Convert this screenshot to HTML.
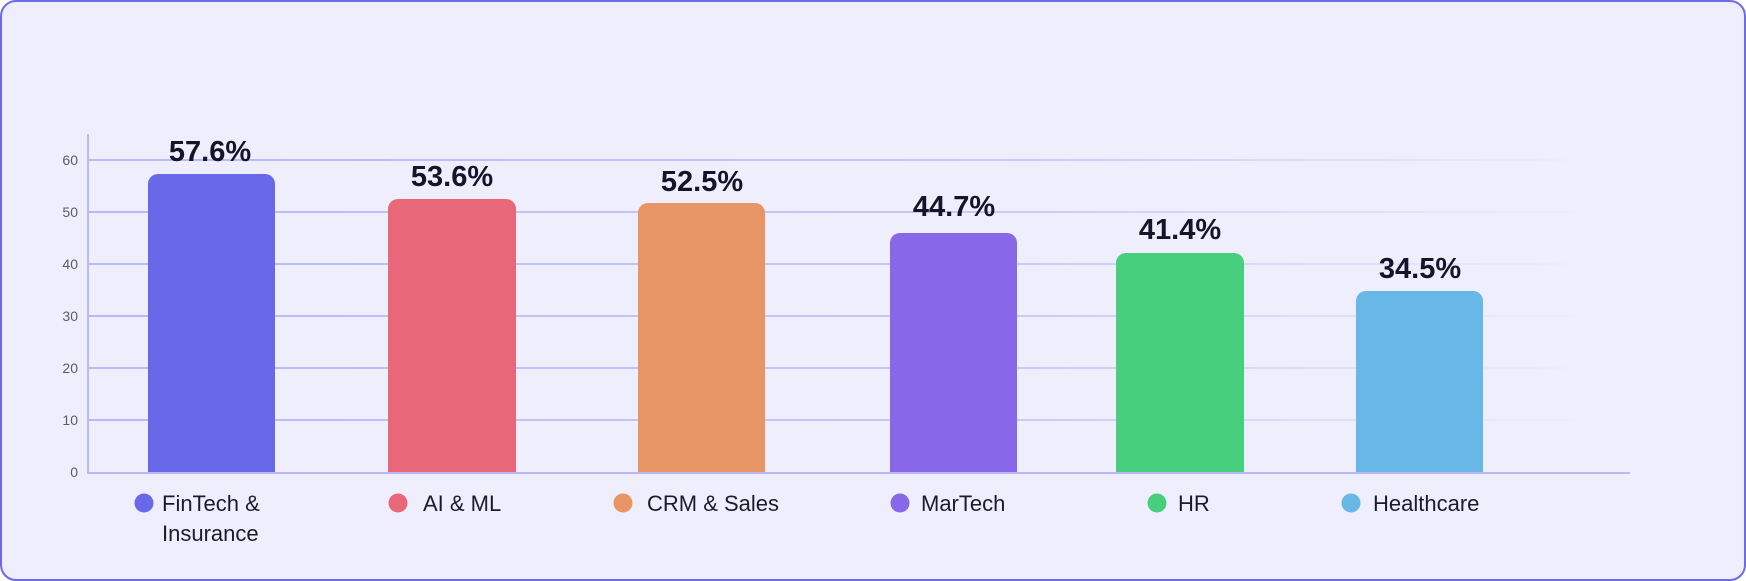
<!DOCTYPE html>
<html><head><style>
html,body{margin:0;padding:0;width:1746px;height:581px;overflow:hidden;background:#fff}
svg{display:block}
text{font-family:"Liberation Sans",sans-serif}
</style></head><body>
<svg width="1746" height="581" viewBox="0 0 1746 581">
<defs>
<linearGradient id="g" gradientUnits="userSpaceOnUse" x1="88" x2="1595" y1="0" y2="0">
<stop offset="0" stop-color="#b8b8fa"/><stop offset="0.6" stop-color="#c8c8fa"/><stop offset="1" stop-color="#c8c8fa" stop-opacity="0"/>
</linearGradient>
</defs>
<rect x="1" y="1" width="1744" height="579" rx="15" fill="#efeefd" stroke="#6d6be6" stroke-width="2"/>
<g stroke="url(#g)" stroke-width="2">
<line x1="88" x2="1595" y1="160" y2="160"/>
<line x1="88" x2="1595" y1="212" y2="212"/>
<line x1="88" x2="1595" y1="264" y2="264"/>
<line x1="88" x2="1595" y1="316" y2="316"/>
<line x1="88" x2="1595" y1="368" y2="368"/>
<line x1="88" x2="1595" y1="420" y2="420"/>
</g>
<line x1="88" x2="88" y1="134" y2="473" stroke="#b8b8fa" stroke-width="2"/>
<line x1="87" x2="1630" y1="473" y2="473" stroke="#b8b8fa" stroke-width="2"/>
<g font-size="14" fill="#5a5a6a" text-anchor="end">
<text x="78" y="165">60</text><text x="78" y="217">50</text><text x="78" y="269">40</text>
<text x="78" y="321">30</text><text x="78" y="373">20</text><text x="78" y="425">10</text><text x="78" y="477">0</text>
</g>
<g>
<path d="M148,472V184a10,10 0 0 1 10,-10H265a10,10 0 0 1 10,10V472Z" fill="#6869e8"/>
<path d="M388,472V209a10,10 0 0 1 10,-10H506a10,10 0 0 1 10,10V472Z" fill="#e86778"/>
<path d="M638,472V213a10,10 0 0 1 10,-10H755a10,10 0 0 1 10,10V472Z" fill="#e89565"/>
<path d="M890,472V243a10,10 0 0 1 10,-10H1007a10,10 0 0 1 10,10V472Z" fill="#8868e8"/>
<path d="M1116,472V263a10,10 0 0 1 10,-10H1234a10,10 0 0 1 10,10V472Z" fill="#48cf7e"/>
<path d="M1356,472V301a10,10 0 0 1 10,-10H1473a10,10 0 0 1 10,10V472Z" fill="#67b8e6"/>
</g>
<g font-size="29" font-weight="bold" fill="#15142a" text-anchor="middle">
<text x="210" y="161">57.6%</text>
<text x="452" y="186">53.6%</text>
<text x="702" y="191">52.5%</text>
<text x="954" y="216">44.7%</text>
<text x="1180" y="239">41.4%</text>
<text x="1420" y="278">34.5%</text>
</g>
<g>
<circle cx="144" cy="503" r="9.5" fill="#6869e8"/>
<circle cx="398" cy="503" r="9.5" fill="#e86778"/>
<circle cx="623" cy="503" r="9.5" fill="#e89565"/>
<circle cx="900" cy="503" r="9.5" fill="#8868e8"/>
<circle cx="1157" cy="503" r="9.5" fill="#48cf7e"/>
<circle cx="1351" cy="503" r="9.5" fill="#67b8e6"/>
</g>
<g font-size="22" fill="#1c1b2e">
<text x="162" y="511">FinTech &amp;</text>
<text x="162" y="541">Insurance</text>
<text x="423" y="511">AI &amp; ML</text>
<text x="647" y="511">CRM &amp; Sales</text>
<text x="921" y="511">MarTech</text>
<text x="1178" y="511">HR</text>
<text x="1373" y="511">Healthcare</text>
</g>
</svg>
</body></html>
